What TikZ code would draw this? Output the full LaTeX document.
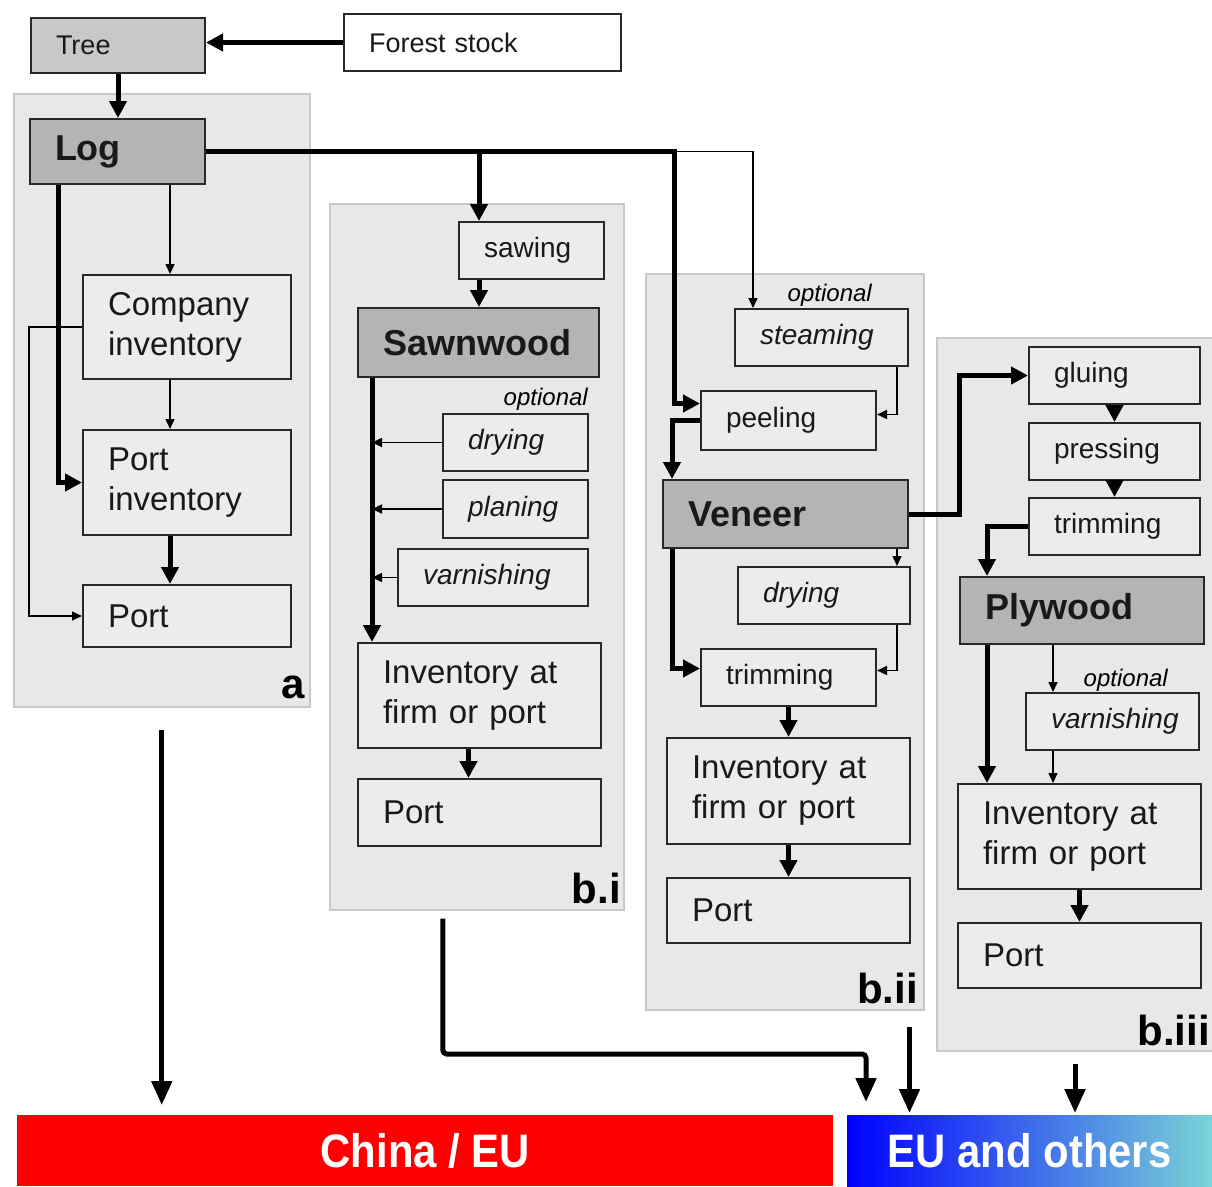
\documentclass[tikz,border=0pt]{standalone}
\usepackage{fontspec}
\setmainfont{Liberation Sans}
\newfontfamily\barfont[FakeStretch=0.89]{Liberation Sans}
\usetikzlibrary{arrows.meta}

\definecolor{panelfill}{RGB}{232,232,232}
\definecolor{panelline}{RGB}{200,200,200}
\definecolor{boxfill}{RGB}{236,236,236}
\definecolor{boxline}{RGB}{40,40,40}
\definecolor{headfill}{RGB}{180,180,180}
\definecolor{treefill}{RGB}{200,200,200}
\definecolor{eumid}{RGB}{45,110,240}
\definecolor{euright}{RGB}{122,212,214}

\tikzset{
  panel/.style={draw=panelline, fill=panelfill, line width=1.5pt, anchor=north west, inner sep=0pt},
  boxsize/.code 2 args={\pgfmathsetmacro\boxtw{#1-50}\tikzset{minimum width=#1pt, minimum height=#2pt, text width=\boxtw pt}},
  box/.style={draw=boxline, line width=2pt, fill=boxfill, anchor=north west, inner xsep=25pt, inner ysep=0pt, align=left, text=black!90},
  small/.style={box, font=\fontsize{28}{34}\selectfont},
  smallit/.style={box, font=\fontsize{28}{34}\selectfont\itshape},
  big/.style={box, font=\fontsize{33}{40}\selectfont},
  head/.style={box, fill=headfill, font=\fontsize{36}{40}\selectfont\bfseries},
  optlabel/.style={anchor=base east, inner sep=0pt, font=\fontsize{24}{28}\selectfont\itshape},
  tag/.style={anchor=base east, inner sep=0pt, font=\fontsize{42}{46}\selectfont\bfseries},
  bar/.style={anchor=north west, inner sep=0pt, minimum height=71pt, text=white, font=\barfont\bfseries\fontsize{47}{50}\selectfont},
  bigflow/.style={line width=5pt, -{Triangle[length=17pt,width=17pt]}},
  smallflow/.style={line width=1.5pt, -{Triangle[length=10pt,width=9pt]}},
  exportflow/.style={line width=5pt, -{Triangle[length=24pt,width=20pt]}},
}

\begin{document}
\begin{tikzpicture}[x=1pt, y=-1pt]
\useasboundingbox (0,0) rectangle (1212,1186);

% panels
\node[panel, minimum width=296pt, minimum height=613pt] (pa) at (13,93) {};
\node[panel, minimum width=294pt, minimum height=706pt] (pbi) at (329,203) {};
\node[panel, minimum width=278pt, minimum height=736pt] (pbii) at (645,273) {};
\node[panel, minimum width=300pt, minimum height=713pt] (pbiii) at (936,337) {};

% source
\node[small, boxsize={174}{55}, fill=treefill, font=\fontsize{27}{32}\selectfont] (tree) at (30,17) {Tree};
\node[small, boxsize={277}{57}, fill=white, font=\fontsize{27}{32}\selectfont] (forest) at (343,13) {Forest stock};

% a: logs
\node[head, boxsize={175}{65}] (log) at (29,118) {Log};
\node[big, boxsize={208}{104}] (compinv) at (82,274) {Company\\inventory};
\node[big, boxsize={208}{105}] (portinv) at (82,429) {Port\\inventory};
\node[big, boxsize={208}{62}] (porta) at (82,584) {Port};
\node[tag] (taga) at (305,698) {a};

% b.i: sawnwood
\node[small, boxsize={145}{57}] (sawing) at (458,221) {sawing};
\node[head, boxsize={241}{69}] (sawn) at (357,307) {Sawnwood};
\node[optlabel] (opta) at (588,405) {optional};
\node[smallit, boxsize={145}{57}] (dryi) at (442,413) {drying};
\node[smallit, boxsize={145}{58}] (plani) at (442,479) {planing};
\node[smallit, boxsize={190}{57}] (varni) at (397,548) {varnishing};
\node[big, boxsize={243}{105}] (invi) at (357,642) {Inventory at\\firm or port};
\node[big, boxsize={243}{67}] (porti) at (357,778) {Port};
\node[tag] (tagi) at (621,903) {b.i};

% b.ii: veneer
\node[optlabel] (optb) at (872,301) {optional};
\node[smallit, boxsize={173}{57}] (steam) at (734,308) {steaming};
\node[small, boxsize={175}{59}] (peel) at (700,390) {peeling};
\node[head, boxsize={245}{68}] (veneer) at (662,479) {Veneer};
\node[smallit, boxsize={172}{57}] (dryii) at (737,566) {drying};
\node[small, boxsize={175}{57}] (trimii) at (700,648) {trimming};
\node[big, boxsize={243}{106}] (invii) at (666,737) {Inventory at\\firm or port};
\node[big, boxsize={243}{65}] (portii) at (666,877) {Port};
\node[tag] (tagii) at (918,1003) {b.ii};

% b.iii: plywood
\node[small, boxsize={171}{57}] (glue) at (1028,346) {gluing};
\node[small, boxsize={171}{57}] (press) at (1028,422) {pressing};
\node[small, boxsize={171}{57}] (trimiii) at (1028,497) {trimming};
\node[head, boxsize={244}{67}] (plywood) at (959,576) {Plywood};
\node[optlabel] (optc) at (1168,686) {optional};
\node[smallit, boxsize={173}{57}] (varniii) at (1025,692) {varnishing};
\node[big, boxsize={243}{105}] (inviii) at (957,783) {Inventory at\\firm or port};
\node[big, boxsize={243}{65}] (portiii) at (957,922) {Port};
\node[tag] (tagiii) at (1210,1045) {b.iii};

% markets
\node[bar, minimum width=816pt, fill=red] (china) at (17,1115) {China / EU};
\node[bar, minimum width=365pt, left color=blue, middle color=eumid, right color=euright] (eu) at (847,1115) {EU and others};

% feed
\draw[bigflow] (forest.west) -- (forest.west -| tree.east);
\draw[bigflow] (tree.south) -- (tree.south |- log.north);

% a
\coordinate (ain) at ([xshift=88pt]compinv.north west);
\draw[smallflow] (compinv.west) -- (compinv.west -| log.west) |- (porta.west);
\draw[smallflow] (ain |- log.south) -- (ain);
\draw[smallflow] (ain |- compinv.south) -- (ain |- portinv.north);
\draw[bigflow] (ain |- portinv.south) -- (ain |- porta.north);
\draw[bigflow] ([xshift=29pt]log.south west) |- (portinv.west);

% log line
\coordinate (sawin) at ([xshift=21pt]sawing.north west);
\coordinate (steamin) at ([xshift=19pt]steam.north west);
\coordinate (vin) at ([xshift=10pt]veneer.north west);
\draw[smallflow] (log.east) -| (steamin);
\draw[bigflow] (log.east) -| ([xshift=-26pt,yshift=17pt]peel.west) -- ([yshift=17pt]peel.west);
\draw[bigflow] (sawin |- log.east) -- (sawin);

% b.i
\draw[bigflow] (sawin |- sawing.south) -- (sawin |- sawn.north);
\coordinate (sline) at ([xshift=15pt]sawn.south west);
\draw[bigflow] (sline) -- (sline |- invi.north);
\foreach \n in {dryi, plani, varni}
  \draw[smallflow] (\n.west) -- (\n.west -| sline);
\draw[bigflow] ([xshift=-11pt]invi.south) -- ([xshift=-11pt]porti.north);

% b.ii
\draw[smallflow] ([xshift=-12pt]steam.south east) |- ([yshift=6pt]peel.east);
\draw[bigflow] (peel.west) -| (vin);
\coordinate (dtop) at ([xshift=-14pt]dryii.north east);
\coordinate (dbot) at ([xshift=-14pt]dryii.south east);
\draw[smallflow] (dtop |- veneer.south) -- (dtop);
\draw[bigflow] (vin |- veneer.south) |- ([yshift=9pt]trimii.west);
\draw[smallflow] (dbot) |- ([yshift=7pt]trimii.east);
\draw[bigflow] (trimii.south) -- (trimii.south |- invii.north);
\draw[bigflow] (invii.south) -- (portii.north);

% b.iii
\draw[bigflow] (veneer.east) -- (veneer.east -| plywood.west) |- (glue.west);
\draw[bigflow] (glue.south) -- (press.north);
\draw[bigflow] (press.south) -- (trimiii.north);
\coordinate (pin) at ([xshift=28pt]plywood.north west);
\draw[bigflow] (trimiii.west) -| (pin);
\coordinate (vtop) at ([xshift=28pt]varniii.north west);
\coordinate (vbot) at ([xshift=28pt]varniii.south west);
\draw[smallflow] (vtop |- plywood.south) -- (vtop);
\draw[smallflow] (vbot) -- (vbot |- inviii.north);
\draw[bigflow] (pin |- plywood.south) -- (pin |- inviii.north);
\draw[bigflow] (inviii.south) -- (portiii.north);

% exports
\coordinate (aout) at ([yshift=-22pt]pa.south);
\coordinate (biout) at ([xshift=-34pt,yshift=-8pt]pbi.south);
\coordinate (biiout) at ([xshift=-15pt,yshift=-16pt]pbii.south east);
\coordinate (biiiout) at ([xshift=139pt,yshift=-12pt]pbiii.south west);
\coordinate (euin) at ([xshift=19pt]eu.north west);
\draw[exportflow, shorten >=10pt] (aout) -- (aout |- china.north);
\draw[exportflow, shorten >=13pt, rounded corners=4pt] (biout) |- ([yshift=61pt]euin) -- (euin);
\draw[exportflow, shorten >=2pt] (biiout) -- (biiout |- eu.north);
\draw[exportflow, shorten >=2pt] (biiiout) -- (biiiout |- eu.north);
\end{tikzpicture}
\end{document}
